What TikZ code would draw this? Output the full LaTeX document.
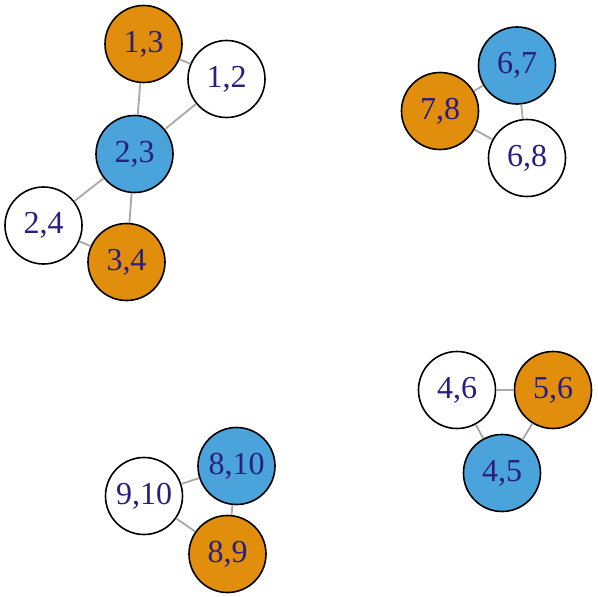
\documentclass[tikz,border=0pt]{standalone}
\usepackage{fontspec}
\setmainfont{Liberation Serif}
\definecolor{vorange}{HTML}{E08E0B}
\definecolor{vblue}{HTML}{4AA3DB}
\definecolor{vlabel}{HTML}{2A1E7E}
\definecolor{vedge}{HTML}{A8A8A8}
\tikzset{
  vtx/.style={circle, draw=black, line width=1.6pt, minimum size=77pt, inner sep=0pt,
    text=vlabel, font=\fontsize{32}{32}\selectfont},
  vo/.style={vtx, fill=vorange},
  vb/.style={vtx, fill=vblue},
  vw/.style={vtx, fill=white},
  edg/.style={draw=vedge, line width=1.8pt}
}
\begin{document}
\begin{tikzpicture}[x=1pt,y=-1pt]
\useasboundingbox (0,0) rectangle (598,597);
\node[vo] (n13) at (143.5,44) {1,3};
\node[vw] (n12) at (226.5,79) {1,2};
\node[vb] (n23) at (134.5,154) {2,3};
\node[vw] (n24) at (43.5,225.5) {2,4};
\node[vo] (n34) at (126.5,262) {3,4};
\node[vb] (n67) at (517,65.5) {6,7};
\node[vo] (n78) at (440,111) {7,8};
\node[vw] (n68) at (527,158) {6,8};
\node[vw] (n46) at (457,390) {4,6};
\node[vo] (n56) at (553,390) {5,6};
\node[vb] (n45) at (502,473) {4,5};
\node[vb] (n810) at (236.5,466) {8,10};
\node[vw] (n910) at (144,496) {9,10};
\node[vo] (n89) at (227.5,554) {8,9};
\begin{scope}[on background layer/.try]
\end{scope}
\begin{pgfonlayer}{main}
\end{pgfonlayer}
\path[edg] (n13) -- (n12);
\path[edg] (n13) -- (n23);
\path[edg] (n12) -- (n23);
\path[edg] (n23) -- (n24);
\path[edg] (n23) -- (n34);
\path[edg] (n24) -- (n34);
\path[edg] (n67) -- (n78);
\path[edg] (n67) -- (n68);
\path[edg] (n78) -- (n68);
\path[edg] (n46) -- (n56);
\path[edg] (n46) -- (n45);
\path[edg] (n56) -- (n45);
\path[edg] (n810) -- (n910);
\path[edg] (n810) -- (n89);
\path[edg] (n910) -- (n89);
\end{tikzpicture}
\end{document}
